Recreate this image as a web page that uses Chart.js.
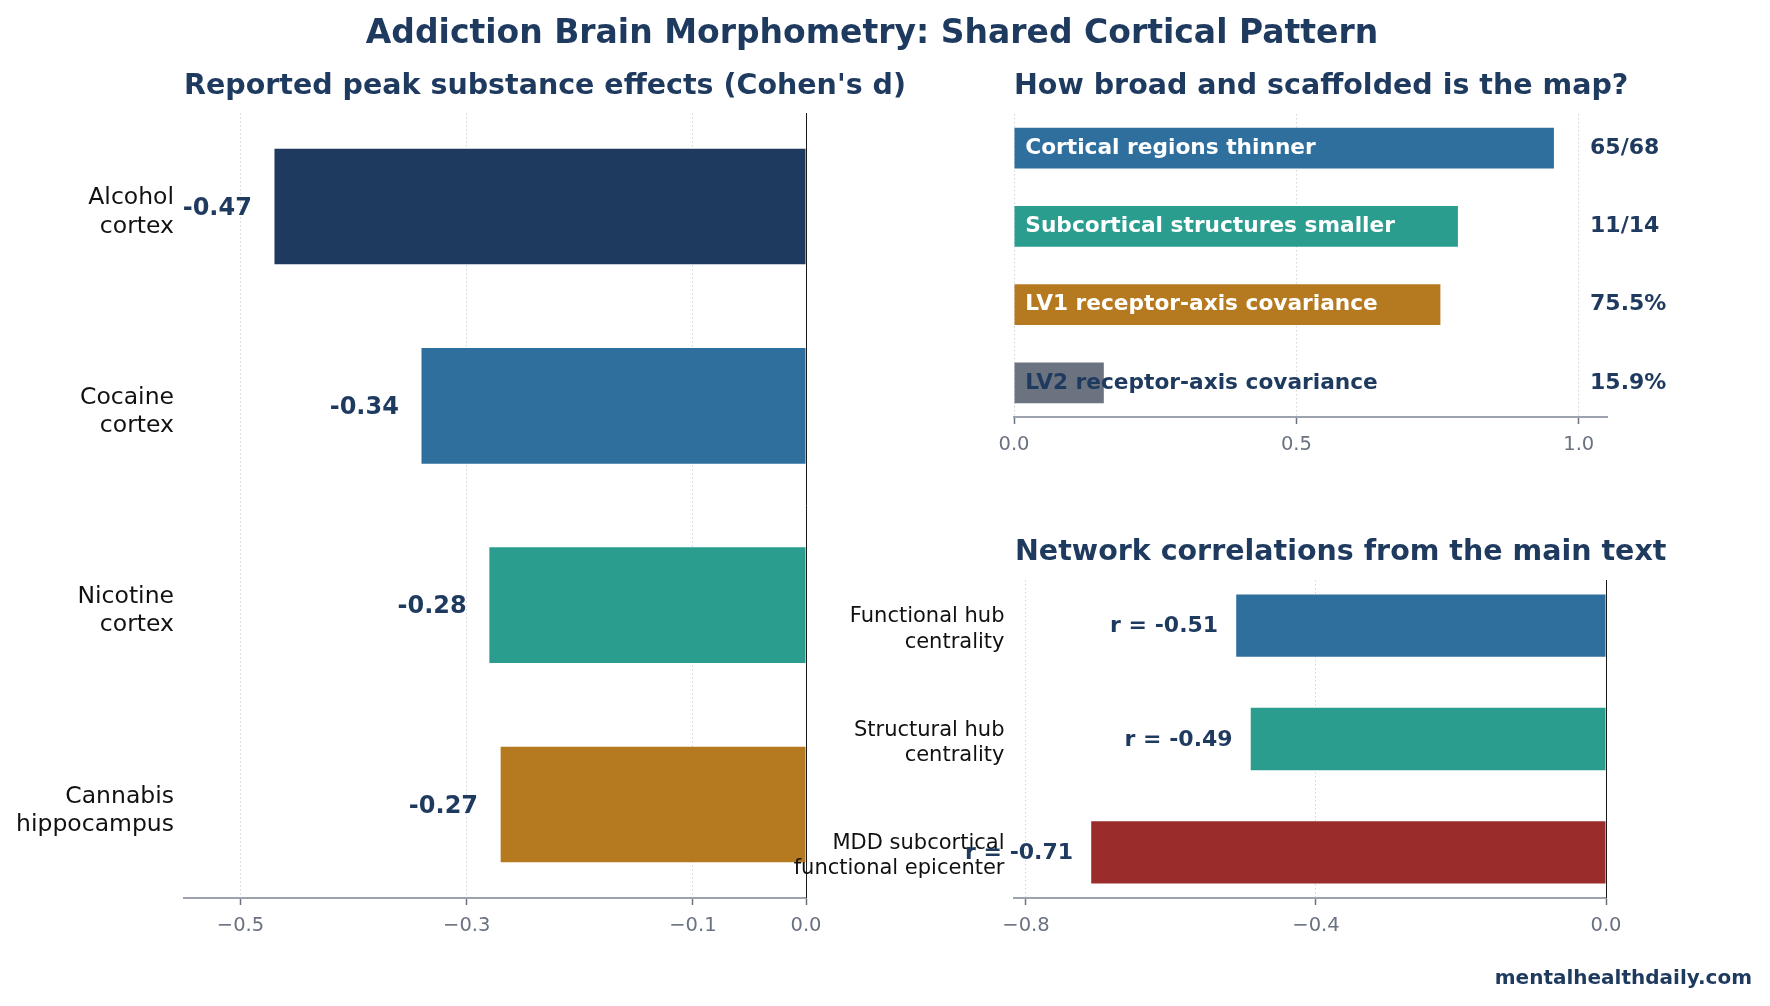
<!DOCTYPE html>
<html>
<head>
<meta charset="utf-8">
<script src="https://cdn.jsdelivr.net/npm/chart.js@4.4.1/dist/chart.umd.min.js"></script>
<style>
html,body{margin:0;padding:0;background:#fff;}
#wrap{position:relative;width:1770px;height:1006px;overflow:hidden;font-family:'DejaVu Sans',sans-serif;}
canvas{position:absolute;left:0;top:0;width:1770px;height:1006px;}
.t{position:absolute;white-space:nowrap;font-weight:bold;color:#1f3a5f;line-height:1;font-family:'DejaVu Sans',sans-serif;}
</style>
</head>
<body>
<div id="wrap">
<canvas id="c1" width="1770" height="1006"></canvas>
<canvas id="c2" width="1770" height="1006"></canvas>
<canvas id="c3" width="1770" height="1006"></canvas>
<div class="t" style="left:0;width:1744px;text-align:center;top:15px;font-size:33px;">Addiction Brain Morphometry: Shared Cortical Pattern</div>
<div class="t" style="left:184px;top:71px;font-size:28.5px;">Reported peak substance effects (Cohen's d)</div>
<div class="t" style="left:1014px;top:71px;font-size:28.5px;">How broad and scaffolded is the map?</div>
<div class="t" style="left:1015px;top:537px;font-size:28.5px;">Network correlations from the main text</div>
<div class="t" style="right:18px;top:967px;font-size:20px;">mentalhealthdaily.com</div>
</div>
<script>
// ---------- data ----------
const substanceLabels = [['Alcohol', 'cortex'], ['Cocaine', 'cortex'], ['Nicotine', 'cortex'], ['Cannabis', 'hippocampus']];
const substanceD = [-0.47, -0.34, -0.28, -0.27];
const substanceTicks = [-0.5, -0.3, -0.1, 0.0];

const mapLabels = ['Cortical regions thinner', 'Subcortical structures smaller', 'LV1 receptor-axis covariance', 'LV2 receptor-axis covariance'];
const mapValues = [0.956, 0.786, 0.755, 0.159];
const mapValueText = ['65/68', '11/14', '75.5%', '15.9%'];
const mapTicks = [0.0, 0.5, 1.0];

const networkLabels = [['Functional hub', 'centrality'], ['Structural hub', 'centrality'], ['MDD subcortical', 'functional epicenter']];
const networkR = [-0.51, -0.49, -0.71];
const networkTicks = [-0.8, -0.4, 0.0];

// ---------- styles ----------
const NAVY = '#1f3a5f';
const substanceColors = ['#1f3a5f', '#2e6f9e', '#2a9d8f', '#b5791f'];
const mapColors = ['#2e6f9e', '#2a9d8f', '#b5791f', '#6b7280'];
const networkColors = ['#2e6f9e', '#2a9d8f', '#9b2c2c'];
const W = 1770, H = 1006, XH = 50;
const FONT = "'DejaVu Sans', sans-serif";
Chart.defaults.font.family = FONT;

function fmtTick(v) {
  const s = Math.abs(v).toFixed(1);
  return (v < -1e-9 ? '\u2212' : '') + s;
}
function yRange(n, h) {
  const m = 0.05 * (n - 1 + h);
  return { min: -h / 2 - m, max: n - 1 + h / 2 + m };
}

function makeChart(id, o) {
  const n = o.values.length;
  const r = yRange(n, o.barH);
  return new Chart(document.getElementById(id), {
    type: 'bar',
    data: {
      datasets: [{
        data: o.values.map((v, i) => ({ x: v, y: i })),
        backgroundColor: o.colors,
        borderWidth: 0,
        categoryPercentage: 1,
        barPercentage: o.barH
      }]
    },
    options: {
      indexAxis: 'y',
      responsive: false,
      animation: false,
      devicePixelRatio: 1,
      layout: { padding: { left: o.padLeft, top: o.top, right: W - o.right, bottom: H - o.bottom - XH } },
      plugins: { legend: { display: false }, tooltip: { enabled: false }, title: { display: false } },
      scales: {
        x: {
          type: 'linear', min: o.xmin, max: o.xmax, z: 1, offset: false,
          afterBuildTicks: s => { s.ticks = o.ticks.map(v => ({ value: v })); },
          afterFit: s => { s.height = XH; },
          ticks: { callback: v => fmtTick(v), color: '#6b7280', font: { size: 19.5 }, padding: 9, maxRotation: 0, autoSkip: false },
          grid: { color: '#d0d4dc', lineWidth: 1, drawTicks: true, tickLength: 7, tickColor: '#6b7280', tickWidth: 1.5, tickBorderDash: [], offset: false },
          border: { display: true, color: '#9ca3af', width: 2, dash: [1.5, 2.5] }
        },
        y: {
          type: 'linear', min: r.min, max: r.max, reverse: true, offset: false,
          display: !!o.yLabels,
          afterBuildTicks: s => { s.ticks = o.values.map((v, i) => ({ value: i })); },
          afterFit: s => { if (o.yLabels) s.width = o.yWidth; },
          ticks: { callback: v => (o.yLabels ? o.yLabels[v] : ''), color: '#111111', font: { size: o.yFont, lineHeight: 1.2 }, padding: o.yPad, labelOffset: o.yShift || 0, autoSkip: false },
          grid: { display: false, drawTicks: false, offset: false },
          border: { display: false }
        }
      }
    },
    plugins: [{ id: 'lbl' + id, afterDraw: o.draw }]
  });
}

function zeroLine(chart) {
  const ctx = chart.ctx, xs = chart.scales.x, a = chart.chartArea;
  const x0 = Math.round(xs.getPixelForValue(0)) + 0.5;
  ctx.save();
  ctx.strokeStyle = '#1a1a1a';
  ctx.lineWidth = 1;
  ctx.beginPath();
  ctx.moveTo(x0, a.top);
  ctx.lineTo(x0, a.bottom);
  ctx.stroke();
  ctx.restore();
}

// Left: substance effects
makeChart('c1', {
  values: substanceD, colors: substanceColors, barH: 0.58,
  padLeft: 0, top: 113, right: 806, bottom: 898,
  xmin: -0.55, xmax: 0, ticks: substanceTicks,
  yLabels: substanceLabels, yWidth: 184, yFont: 23.5, yPad: 10, yShift: 6,
  draw: chart => {
    zeroLine(chart);
    const ctx = chart.ctx, xs = chart.scales.x, ys = chart.scales.y;
    ctx.save();
    ctx.font = 'bold 24px ' + FONT;
    ctx.fillStyle = NAVY;
    ctx.textAlign = 'right';
    ctx.textBaseline = 'middle';
    substanceD.forEach((v, i) => ctx.fillText(v.toFixed(2), xs.getPixelForValue(v - 0.02), ys.getPixelForValue(i) + 2));
    ctx.restore();
  }
});

// Top right: breadth
makeChart('c2', {
  values: mapValues, colors: mapColors, barH: 0.52,
  padLeft: 1014, top: 114, right: 1607, bottom: 417,
  xmin: 0, xmax: 1.05, ticks: mapTicks,
  yLabels: null,
  draw: chart => {
    const ctx = chart.ctx, xs = chart.scales.x, ys = chart.scales.y;
    ctx.save();
    ctx.textBaseline = 'middle';
    ctx.textAlign = 'left';
    mapValues.forEach((v, i) => {
      const y = ys.getPixelForValue(i);
      const x = xs.getPixelForValue(0.02);
      ctx.font = 'bold 21.7px ' + FONT;
      const tw = ctx.measureText(mapLabels[i]).width;
      const fits = x + tw < xs.getPixelForValue(v);
      ctx.fillStyle = fits ? '#ffffff' : NAVY;
      ctx.fillText(mapLabels[i], x, y);
      ctx.font = 'bold 22px ' + FONT;
      ctx.fillStyle = NAVY;
      ctx.fillText(mapValueText[i], xs.getPixelForValue(1.02), y);
    });
    ctx.restore();
  }
});

// Bottom right: network correlations
makeChart('c3', {
  values: networkR, colors: networkColors, barH: 0.55,
  padLeft: 0, top: 580, right: 1606, bottom: 898,
  xmin: -0.8165, xmax: 0, ticks: networkTicks,
  yLabels: networkLabels, yWidth: 1014, yFont: 21, yPad: 9.5, yShift: 4,
  draw: chart => {
    zeroLine(chart);
    const ctx = chart.ctx, xs = chart.scales.x, ys = chart.scales.y;
    ctx.save();
    ctx.font = 'bold 22px ' + FONT;
    ctx.fillStyle = NAVY;
    ctx.textAlign = 'right';
    ctx.textBaseline = 'middle';
    networkR.forEach((v, i) => ctx.fillText('r = ' + v.toFixed(2), xs.getPixelForValue(v - 0.025), ys.getPixelForValue(i) + 1));
    ctx.restore();
  }
});
</script>
</body>
</html>
